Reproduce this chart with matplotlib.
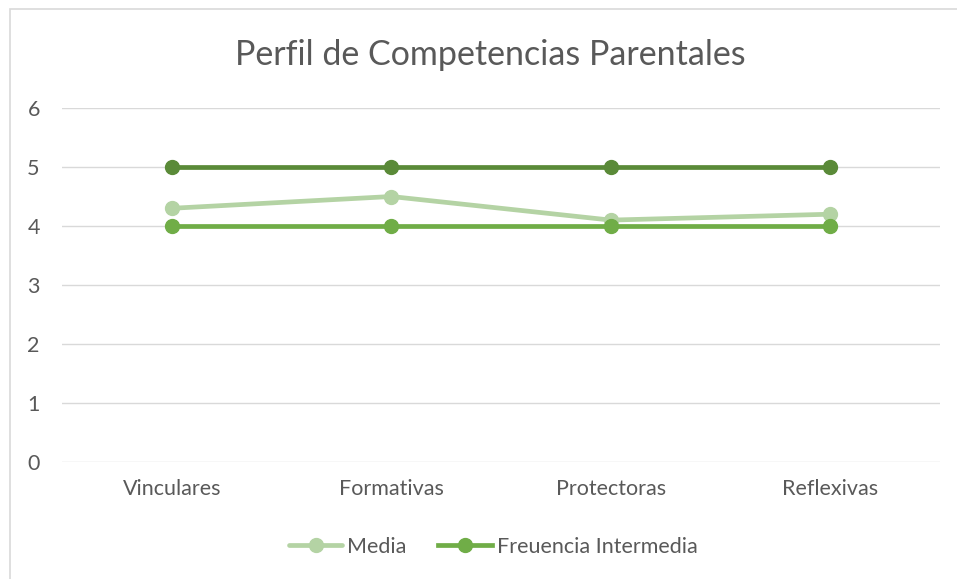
import matplotlib.pyplot as plt
from matplotlib.patches import Rectangle

plt.rcParams['font.family'] = ['Lato', 'DejaVu Sans']

categorias = ['Vinculares', 'Formativas', 'Protectoras', 'Reflexivas']
media = [4.3, 4.5, 4.1, 4.2]
frec_intermedia = [4, 4, 4, 4]
frec_alta = [5, 5, 5, 5]

gris = '#595959'
fig = plt.figure(figsize=(9.57, 5.79), dpi=100)
ax = fig.add_axes([62 / 957, 1 - 462 / 579, 878 / 957, 354 / 579])

x = range(len(categorias))
ax.plot(x, media, color='#B4D3A4', lw=3.4, marker='o', ms=10, label='Media',
        solid_capstyle='round')
ax.plot(x, frec_intermedia, color='#70AD47', lw=3.4, marker='o', ms=10,
        label='Freuencia Intermedia')
ax.plot(x, frec_alta, color='#5A8A38', lw=3.4, marker='o', ms=10, label='_nolegend_')

ax.set_xlim(-0.5, 3.5)
ax.set_ylim(0, 6)
ax.set_yticks(range(7))
ax.set_xticks(list(x))
ax.set_xticklabels(categorias)
ax.grid(axis='y', color='#D9D9D9', lw=1)
ax.set_axisbelow(True)
for s in ax.spines.values():
    s.set_visible(False)
ax.tick_params(length=0, labelsize=15.5, labelcolor=gris)
ax.tick_params(axis='y', pad=16)
ax.tick_params(axis='x', pad=12)

fig.text(490 / 957, 1 - 55 / 579, 'Perfil de Competencias Parentales',
         ha='center', va='center', fontsize=24.5, color=gris)

leg = fig.legend(loc='center', bbox_to_anchor=(493 / 957, 1 - 547 / 579), ncol=2,
                 frameon=False, fontsize=15.5, handlelength=2.5, handletextpad=0.2,
                 columnspacing=1.5)
for t in leg.get_texts():
    t.set_color(gris)

fig.patches.append(Rectangle((10 / 957, -0.1), 2, (579 - 9) / 579 + 0.1, fill=False,
                             edgecolor='#D9D9D9', lw=1.2, transform=fig.transFigure))

fig.savefig('out.png', dpi=100)
